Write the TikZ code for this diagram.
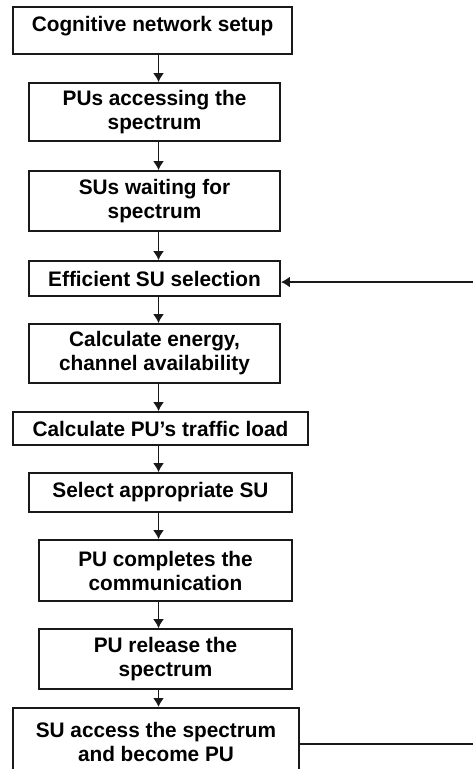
\documentclass[tikz,border=0pt]{standalone}
\usepackage{fontspec}
\setmainfont{Liberation Sans}[FakeStretch=0.99]
\usetikzlibrary{arrows.meta}
\definecolor{line}{gray}{0.1}

\begin{document}
\begin{tikzpicture}[x=1pt,y=1pt]
    \tikzset{%
      box/.style={draw=line, line width=1.8pt, inner sep=0pt, align=center,
        font=\fontsize{21}{24}\selectfont\bfseries},
      arr/.style={draw=line, line width=1.7pt,
        -{Latex[length=9pt,width=11pt]}},
    }
    \useasboundingbox (0,0) rectangle (472,-769);
    \coordinate (S) at (158.5,0);
    % boxes, top to bottom
    \node[box, anchor=north, minimum width=279pt, text height=25pt,
      text depth=22pt] (A) at (152.5,-6) {Cognitive network setup};
    \node[box, minimum width=251pt, minimum height=58pt] (B) at (154.5,-112)
      {PUs accessing the\\spectrum};
    \node[box, minimum width=251pt, minimum height=60pt] (C) at (154.5,-201)
      {SUs waiting for\\spectrum};
    \node[box, minimum width=251pt, minimum height=35pt] (D) at (154.5,-278.5)
      {Efficient SU selection};
    \node[box, minimum width=251pt, minimum height=59pt] (E) at (154.5,-353.5)
      {Calculate energy,\\channel availability};
    \node[box, minimum width=295pt, minimum height=33pt] (F) at (160.5,-428.5)
      {Calculate PU’s traffic load};
    \node[box, minimum width=263pt, minimum height=39pt] (G) at (160.5,-492.5)
      {Select appropriate SU};
    \node[box, minimum width=253pt, minimum height=61pt] (H) at (165.5,-570.5)
      {PU completes the\\communication};
    \node[box, minimum width=253pt, minimum height=60pt] (I) at (165.5,-659)
      {PU release the\\spectrum};
    \node[box, anchor=north, minimum width=286pt, minimum height=68pt] (J)
      at (156,-707) {SU access the spectrum\\and become PU};

    % main flow
    \draw[arr] (A.south -| S) -- (B.north -| S);
    \draw[arr] (B.south -| S) -- (C.north -| S);
    \draw[arr] (C.south -| S) -- (D.north -| S);
    \draw[arr] (D.south -| S) -- (E.north -| S);
    \draw[arr] (E.south -| S) -- (F.north -| S);
    \draw[arr] (F.south -| S) -- (G.north -| S);
    \draw[arr] (G.south -| S) -- (H.north -| S);
    \draw[arr] (H.south -| S) -- (I.north -| S);
    \draw[arr] (I.south -| S) -- (J.north -| S);

    % feedback loop (runs off the right edge)
    \coordinate (R) at (480,0);
    \draw[arr] (J.east |- 0,-744) -- (R |- 0,-744) -- (R |- 0,-282)
      -- (D.east |- 0,-282);
\end{tikzpicture}
\end{document}
